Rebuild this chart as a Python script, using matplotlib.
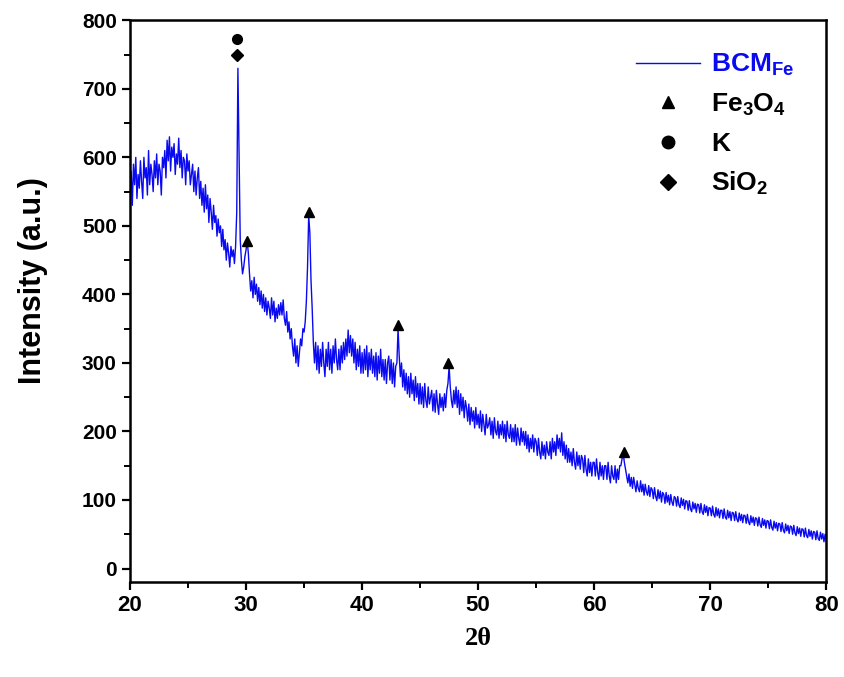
import numpy as np
import matplotlib
matplotlib.use('Agg')
import matplotlib.pyplot as plt
from matplotlib.lines import Line2D
from matplotlib.ticker import MultipleLocator

# 2theta from 20 to 80 in 0.1 deg steps, intensity
two_theta = np.round(np.arange(20.0, 80.05, 0.1), 1)
intensity = [
    545, 580, 530, 590, 560, 600, 540, 575, 555, 595,
    565, 540, 600, 570, 585, 545, 610, 560, 590, 575,
    550, 595, 570, 605, 560, 590, 580, 545, 600, 585,
    610, 570, 625, 595, 630, 580, 615, 600, 620, 575,
    605, 590, 628, 585, 610, 570, 600, 595, 560, 605,
    580, 595, 560, 575, 590, 550, 580, 545, 570, 585,
    540, 565, 530, 555, 520, 560, 525, 545, 505, 540,
    520, 495, 530, 505, 515, 485, 510, 490, 500, 470,
    495, 465, 480, 450, 475, 460, 440, 470, 455, 465,
    445, 470, 520, 730, 600, 480, 450, 430, 440, 455,
    465, 478, 460, 430, 405, 420, 395, 425, 400, 415,
    390, 410, 385, 405, 380, 400, 375, 395, 370, 390,
    380, 365, 395, 370, 390, 360, 380, 365, 385, 370,
    388, 370, 392, 365, 355, 375, 345, 360, 335, 350,
    325, 310, 335, 300, 325, 295, 315, 335, 325, 350,
    345, 360, 390, 440, 515, 490, 420, 380, 330, 300,
    330, 290, 325, 285, 320, 295, 330, 300, 280, 320,
    295, 330, 290, 320, 285, 325, 300, 335, 305, 290,
    320, 290, 325, 300, 330, 305, 335, 310, 348, 315,
    340, 310, 335, 300, 330, 290, 320, 295, 325, 285,
    315, 285, 320, 290, 325, 280, 315, 290, 320, 285,
    310, 280, 315, 275, 310, 285, 320, 280, 305, 275,
    305, 270, 300, 310, 275, 305, 270, 300, 265, 295,
    300, 350, 310, 280, 300, 265, 290, 260, 285, 255,
    280, 250, 285, 255, 275, 245, 280, 250, 270, 240,
    270, 240, 265, 235, 270, 245, 235, 265, 240, 250,
    260, 230, 255, 228, 260, 240, 225, 255, 235, 250,
    230, 255, 235, 260, 270, 295, 265, 245, 235, 260,
    240, 265, 235, 260, 225, 255, 230, 250, 220, 245,
    235, 215, 240, 210, 235, 215, 230, 205, 235, 210,
    225, 205, 230, 200, 225, 210, 195, 225, 205, 210,
    220, 195, 215, 190, 220, 200, 195, 215, 190, 210,
    195, 215, 190, 210, 185, 215, 195, 190, 210, 185,
    205, 185, 210, 180, 205, 190, 180, 205, 185, 200,
    180, 200, 175, 195, 170, 190, 175, 195, 170, 190,
    185, 165, 190, 170, 160, 185, 165, 180, 160, 185,
    170, 165, 185, 160, 190, 170, 185, 165, 195, 175,
    190, 170, 198, 165, 185, 160, 180, 155, 175, 155,
    170, 150, 175, 155, 145, 170, 150, 165, 145, 165,
    160, 140, 165, 145, 135, 160, 140, 155, 135, 155,
    155, 135, 160, 140, 130, 155, 135, 150, 130, 150,
    150, 130, 155, 135, 125, 150, 135, 130, 150, 125,
    145, 130, 150, 150, 160, 168, 155, 145, 135, 125,
    138, 120, 133, 117, 133, 122, 112, 128, 117, 112,
    128, 112, 123, 107, 123, 112, 107, 121, 105, 118,
    115, 102, 118, 105, 99, 115, 102, 113, 97, 111,
    108, 95, 111, 97, 107, 93, 108, 97, 92, 105,
    103, 91, 105, 93, 89, 103, 92, 101, 87, 99,
    98, 85, 99, 87, 83, 97, 87, 95, 82, 94,
    93, 81, 95, 83, 79, 93, 82, 91, 77, 89,
    88, 77, 91, 79, 75, 89, 77, 87, 74, 85,
    85, 73, 87, 75, 72, 85, 74, 83, 70, 82,
    81, 70, 83, 72, 68, 81, 70, 79, 67, 78,
    77, 66, 79, 68, 64, 77, 67, 75, 63, 74,
    73, 62, 75, 64, 60, 73, 63, 71, 59, 70,
    69, 58, 71, 60, 56, 69, 59, 67, 55, 66,
    65, 54, 67, 56, 52, 65, 55, 63, 51, 62,
    61, 50, 63, 52, 48, 61, 51, 59, 47, 58,
    57, 46, 59, 48, 45, 57, 47, 55, 43, 54,
    53, 42, 55, 44, 41, 53, 43, 51, 39, 50,
    40,
]

# phase markers
fe3o4_x = [30.1, 35.4, 43.1, 47.4, 62.6]
fe3o4_y = [478, 520, 356, 300, 170]
k_x = [29.25]
k_y = [773]
sio2_x = [29.25]
sio2_y = [750]

plt.rcParams['mathtext.fontset'] = 'custom'
plt.rcParams['mathtext.bf'] = 'Liberation Sans:bold'
plt.rcParams['mathtext.rm'] = 'Liberation Sans:bold'

fig = plt.figure(figsize=(8.44, 6.77), dpi=100)
ax = fig.add_axes([0.154, 0.140, 0.825, 0.830])

ax.plot(two_theta, intensity, color='#0a0af0', lw=1.0)
ax.plot(fe3o4_x, fe3o4_y, '^', color='black', ms=7)
ax.plot(k_x, k_y, 'o', color='black', ms=7)
ax.plot(sio2_x, sio2_y, 'D', color='black', ms=6)

ax.set_xlim(20, 80)
ax.set_ylim(-20, 800)
ax.xaxis.set_major_locator(MultipleLocator(10))
ax.xaxis.set_minor_locator(MultipleLocator(5))
ax.yaxis.set_major_locator(MultipleLocator(100))
ax.yaxis.set_minor_locator(MultipleLocator(50))
ax.tick_params(which='major', direction='out', length=6, width=1.6)
ax.tick_params(which='minor', direction='out', length=4, width=1.4)
ax.tick_params(axis='x', pad=3)
for s in ax.spines.values():
    s.set_linewidth(1.8)

for lab in ax.get_yticklabels():
    lab.set_fontfamily('Liberation Sans')
    lab.set_fontweight('bold')
    lab.set_fontsize(15)
for lab in ax.get_xticklabels():
    lab.set_fontfamily('Liberation Sans')
    lab.set_fontweight('bold')
    lab.set_fontsize(16)

ax.set_ylabel('Intensity (a.u.)', fontsize=22, fontweight='bold', family='Liberation Sans')
ax.yaxis.set_label_coords(-0.118, 0.537)
ax.set_xlabel('2θ', fontsize=19, fontweight='bold', family='Liberation Serif', labelpad=8)

handles = [
    Line2D([], [], color='#0a0af0', lw=1.0),
    Line2D([], [], ls='none', marker='^', color='black', ms=9),
    Line2D([], [], ls='none', marker='o', color='black', ms=9),
    Line2D([], [], ls='none', marker='D', color='black', ms=8),
]
labels = [r'$\mathbf{BCM_{Fe}}$', r'$\mathbf{Fe_3O_4}$', r'$\mathbf{K}$', r'$\mathbf{SiO_2}$']
leg = ax.legend(handles, labels, loc='upper right', frameon=False, fontsize=19,
                handlelength=2.4, handletextpad=0.45, labelspacing=0.5,
                borderaxespad=0.8)
leg.get_texts()[0].set_color('#0a0af0')

fig.savefig('out.png', dpi=100)
